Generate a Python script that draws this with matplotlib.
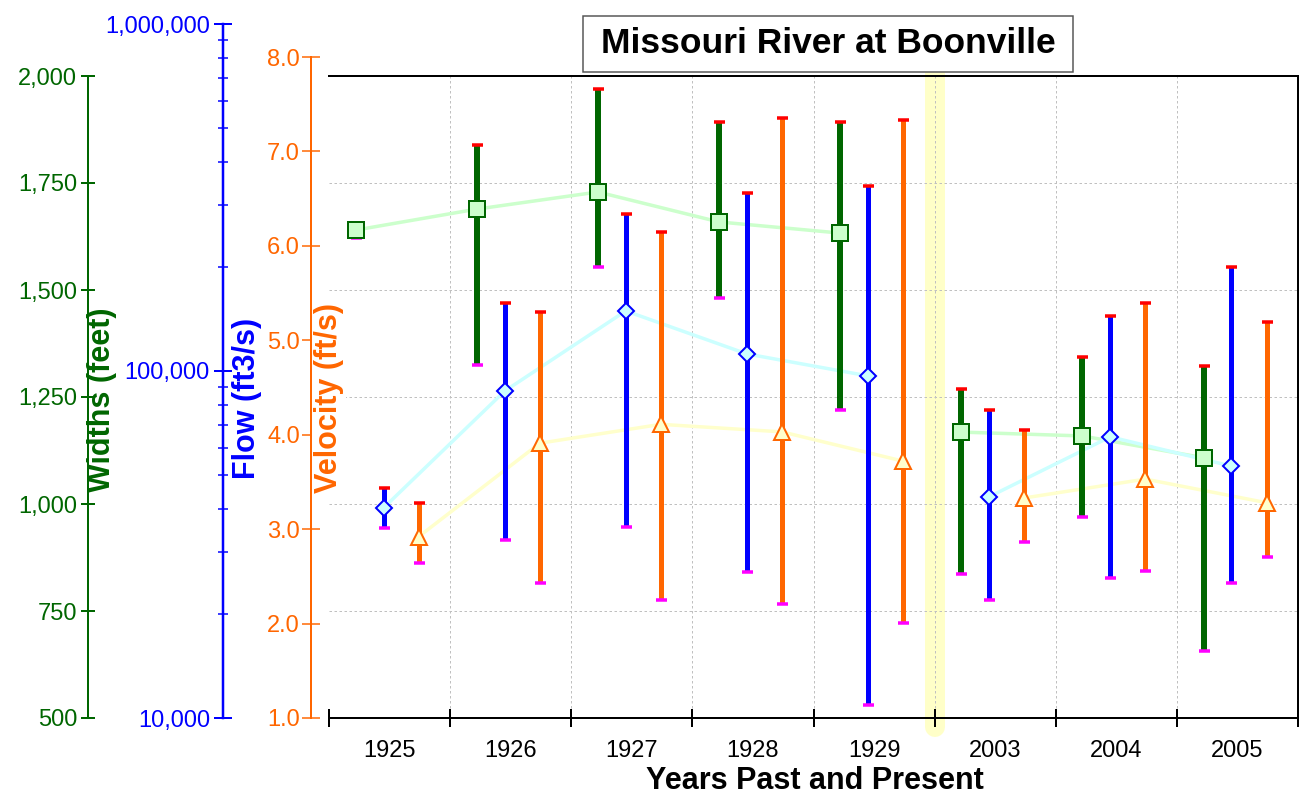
import numpy as np
import matplotlib
matplotlib.use("Agg")
import matplotlib.pyplot as plt
from matplotlib.patches import Rectangle
from matplotlib.ticker import FixedLocator, LogLocator, NullFormatter, FuncFormatter

years = ['1925', '1926', '1927', '1928', '1929', '2003', '2004', '2005']

# widths (feet)
width_mean = [1640, 1689, 1729, 1659, 1633, 1168, 1159, 1108]
width_high = [1645, 1839, 1970, 1893, 1893, 1269, 1343, 1322]
width_low = [1621, 1325, 1554, 1481, 1220, 836, 970, 657]

# flow (ft3/s)
flow_mean = [40300, 87500, 149000, 112000, 96800, 43400, 64600, 53200]
flow_high = [46000, 157000, 283000, 326000, 341000, 77300, 144000, 199500]
flow_low = [35300, 32600, 35500, 26400, 10900, 21900, 25300, 24500]

# velocity (ft/s)
vel_mean = [2.92, 3.91, 4.11, 4.03, 3.72, 3.33, 3.53, 3.28]
vel_high = [3.28, 5.30, 6.15, 7.35, 7.33, 4.05, 5.40, 5.19]
vel_low = [2.64, 2.43, 2.25, 2.21, 2.01, 2.86, 2.56, 2.71]

W, H = 1301, 795
PT = 0.72  # points per pixel at 100 dpi

GREEN = '#006600'
BLUE = '#0000ff'
ORANGE = '#ff6600'

plt.rcParams['font.family'] = ['Liberation Sans', 'DejaVu Sans']

fig = plt.figure(figsize=(W / 100, H / 100), dpi=100)


def box(x0, y0, x1, y1):
    return [x0 / W, 1 - y1 / H, (x1 - x0) / W, (y1 - y0) / H]


ax = fig.add_axes(box(329, 76, 1298, 718))
ax_f = fig.add_axes(box(329, 24, 1298, 718))
ax_v = fig.add_axes(box(329, 57, 1298, 718))

for a in (ax_f, ax_v):
    a.patch.set_visible(False)
    a.xaxis.set_visible(False)
    for s in ('top', 'right', 'bottom'):
        a.spines[s].set_visible(False)

ax_f.set_yscale('log')

# scales first, so the borrowed transforms are right
ax.set_xlim(0, 8)
ax_f.set_xlim(0, 8)
ax_v.set_xlim(0, 8)

# --- data ---
x = np.arange(len(years))
series = [
    (x + 0.22, width_mean, width_low, width_high, ax.transData, GREEN, '#ccffcc', 's', 11, 6),
    (x + 0.45, flow_mean, flow_low, flow_high, ax_f.transData, BLUE, '#ccffff', 'D', 8, 5),
    (x + 0.74, vel_mean, vel_low, vel_high, ax_v.transData, ORANGE, '#ffffcc', '^', 11, 5),
]

for xs, mean, low, high, trf, col, fill, mk, ms, bw in series:
    mean = np.array(mean, dtype=float)
    for seg in (slice(0, 5), slice(5, 8)):
        ax.plot(xs[seg], mean[seg], color=fill, lw=3.5 * PT, transform=trf, zorder=2)

for xs, mean, low, high, trf, col, fill, mk, ms, bw in series:
    ax.vlines(xs, low, high, colors=col, lw=bw * PT, transform=trf, zorder=3)
    ax.plot(xs, high, ls='none', marker='_', ms=11 * PT, mew=3.5 * PT, color='#ff0000',
            transform=trf, zorder=4)
    ax.plot(xs, low, ls='none', marker='_', ms=11 * PT, mew=3.5 * PT, color='#ff00ff',
            transform=trf, zorder=4)
    ax.plot(xs, mean, ls='none', marker=mk, ms=ms, mfc=fill, mec=col, mew=2 * PT,
            transform=trf, zorder=5)

ax.set_ylim(500, 2000)
ax_f.set_ylim(1e4, 1e6)
ax_v.set_ylim(1, 8)

# break between past and present
ax.axvline(5, ymin=-0.014, ymax=1.0047, color='#ffffc8', lw=20 * PT,
           solid_capstyle='round', clip_on=False, zorder=0.5)

# grid
for gx in range(1, 8):
    ax.axvline(gx, color='#c0c0c0', lw=1 * PT, ls=(0, (2.5, 2.5)), zorder=0.6)
for gy in [750, 1000, 1250, 1500, 1750]:
    ax.axhline(gy, color='#c0c0c0', lw=1 * PT, ls=(0, (2.5, 2.5)), zorder=0.6)

# --- main axis: widths on the left, frame on top/right/bottom ---
ax.spines['left'].set_position(('outward', 241 * PT))
ax.spines['left'].set_color(GREEN)
ax.spines['left'].set_linewidth(2 * PT)
for s in ('top', 'right', 'bottom'):
    ax.spines[s].set_linewidth(2 * PT)
    ax.spines[s].set_color('black')

ax.set_yticks(np.arange(500, 2001, 250))
ax.yaxis.set_major_formatter(FuncFormatter(lambda v, p: f'{v:,.0f}'))
ax.tick_params(axis='y', direction='inout', length=14 * PT, width=2 * PT,
               colors=GREEN, labelsize=17, pad=4 * PT)

ax.set_xticks(np.arange(9))
ax.set_xticklabels([])
ax.set_xticks(x + 0.5, minor=True)
ax.set_xticklabels(years, minor=True)
ax.tick_params(axis='x', which='major', direction='inout', length=18 * PT,
               width=2 * PT, color='black')
ax.tick_params(axis='x', which='minor', length=0, pad=16, labelsize=17,
               labelcolor='black')

# flow axis
ax_f.spines['left'].set_position(('outward', 106 * PT))
ax_f.spines['left'].set_color(BLUE)
ax_f.spines['left'].set_linewidth(2.5 * PT)
ax_f.yaxis.set_major_locator(FixedLocator([1e4, 1e5, 1e6]))
ax_f.yaxis.set_major_formatter(FuncFormatter(lambda v, p: f'{v:,.0f}'))
ax_f.yaxis.set_minor_locator(LogLocator(base=10, subs=np.arange(2, 10)))
ax_f.yaxis.set_minor_formatter(NullFormatter())
ax_f.tick_params(axis='y', which='major', direction='inout', length=18 * PT,
                 width=2 * PT, colors=BLUE, labelsize=17, pad=4 * PT)
ax_f.tick_params(axis='y', which='minor', direction='inout', length=10 * PT,
                 width=1.5 * PT, colors=BLUE)

# velocity axis
ax_v.spines['left'].set_position(('outward', 18 * PT))
ax_v.spines['left'].set_color(ORANGE)
ax_v.spines['left'].set_linewidth(2 * PT)
ax_v.set_yticks(np.arange(1, 9))
ax_v.yaxis.set_major_formatter(FuncFormatter(lambda v, p: f'{v:.1f}'))
ax_v.tick_params(axis='y', direction='inout', length=18 * PT, width=1.5 * PT,
                 colors=ORANGE, labelsize=17, pad=2 * PT)

# axis titles
fig.text(102 / W, 1 - 400 / H, 'Widths (feet)', rotation=90, ha='center', va='center',
         color=GREEN, fontsize=22, fontweight='bold')
fig.text(247 / W, 1 - 398 / H, 'Flow (ft3/s)', rotation=90, ha='center', va='center',
         color=BLUE, fontsize=22, fontweight='bold')
fig.text(329 / W, 1 - 398 / H, 'Velocity (ft/s)', rotation=90, ha='center', va='center',
         color=ORANGE, fontsize=22, fontweight='bold',
         bbox=dict(facecolor='white', edgecolor='none', pad=1))
fig.text(815 / W, 1 - 789 / H, 'Years Past and Present', ha='center', va='baseline',
         fontsize=22, fontweight='bold')

# title in a box
fig.add_artist(Rectangle((583 / W, 1 - 72 / H), 490 / W, 56 / H, transform=fig.transFigure,
                         facecolor='white', edgecolor='#555555', lw=1.5 * PT))
fig.text(828 / W, 1 - 53 / H, 'Missouri River at Boonville', ha='center', va='baseline',
         fontsize=25.5, fontweight='bold')

fig.savefig('out.png', dpi=100)
